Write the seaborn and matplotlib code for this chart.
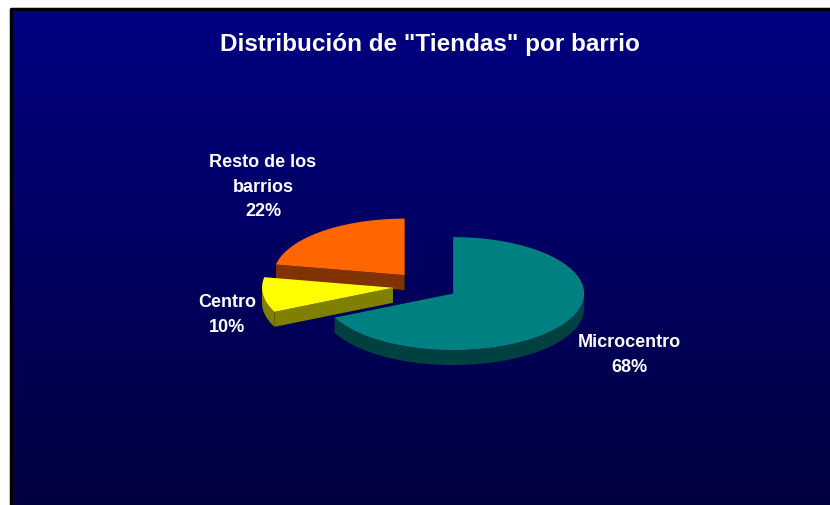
import numpy as np
import matplotlib
matplotlib.use("Agg")
import matplotlib.pyplot as plt
from matplotlib.patches import Polygon
import seaborn as sns

# --- DATA ---
barrios = ["Microcentro", "Centro", "Resto de los\nbarrios"]
shares = [68, 10, 22]
top_colors = ["#008080", "#FFFF00", "#FF6600"]
side_colors = ["#004040", "#808000", "#803300"]
title = 'Distribución de "Tiendas" por barrio'

# --- LAYOUT (pixel space) ---
W, H = 830, 505
CX, CY = 425.5, 286.0      # pie centre
RX, RY = 131.0, 56.5       # ellipse radii
DEPTH = 15.0               # thickness of the 3D pie
EXPLODE = 0.25
label_pos = [(629, 355), (227, 315), (263, 187)]

sns.set_style("white")
plt.rcParams['font.family'] = ['Liberation Sans', 'DejaVu Sans']

fig = plt.figure(figsize=(W / 100, H / 100), dpi=100)
fig.patch.set_facecolor("white")
ax = fig.add_axes([0, 0, 1, 1])
ax.set_xlim(0, W)
ax.set_ylim(H, 0)
ax.axis("off")

# background gradient + frame
grad = np.linspace(0, 1, 256).reshape(-1, 1)
cmap = matplotlib.colors.LinearSegmentedColormap.from_list("bg", ["#000082", "#000040"])
ax.imshow(grad, cmap=cmap, extent=(11, W + 2, H + 2, 9), aspect="auto", zorder=0)
ax.plot([11, 11, W + 2], [H + 2, 9, 9], color="black", lw=2.5, zorder=1)


def rim(a_from, a_to, ox, oy, dz=0.0, n=80):
    t = np.radians(np.linspace(a_from, a_to, n))
    return np.column_stack([ox + RX * np.cos(t), oy - RY * np.sin(t) + dz])


# slices clockwise from 12 o'clock
fracs = np.array(shares) / sum(shares)
starts = 90 - 360 * np.concatenate([[0], np.cumsum(fracs)[:-1]])
ends = starts - 360 * fracs

slices = []
for i in range(len(shares)):
    a1, a2 = starts[i], ends[i]       # a1 > a2 (clockwise)
    mid = np.radians((a1 + a2) / 2)
    ox = CX + EXPLODE * RX * np.cos(mid)
    oy = CY - EXPLODE * RY * np.sin(mid)
    slices.append((a1, a2, ox, oy))

# draw back to front: Resto, Centro, Microcentro
for i in [2, 1, 0]:
    a1, a2, ox, oy = slices[i]
    # outer rim visible between 180 and 360 degrees
    lo, hi = a2 % 360, a1 % 360
    if hi <= lo:
        hi += 360
    vis_lo, vis_hi = max(lo, 180), min(hi, 360)
    if vis_hi > vis_lo:
        top = rim(vis_lo, vis_hi, ox, oy)
        bot = rim(vis_hi, vis_lo, ox, oy, DEPTH)
        ax.add_patch(Polygon(np.vstack([top, bot]), closed=True,
                             facecolor=side_colors[i], edgecolor="none", zorder=2))
    # radial faces facing the viewer
    for ang, sgn in [(a1, 1), (a2, -1)]:
        normal = np.radians(ang + 90 * sgn)
        if np.sin(normal) < -1e-6:
            p = rim(ang, ang, ox, oy, n=1)[0]
            face = [(ox, oy), tuple(p), (p[0], p[1] + DEPTH), (ox, oy + DEPTH)]
            ax.add_patch(Polygon(face, closed=True, facecolor=side_colors[i],
                                 edgecolor="none", zorder=2))
    # top face
    arc = rim(a1, a2, ox, oy)
    ax.add_patch(Polygon(np.vstack([[ox, oy], arc]), closed=True,
                         facecolor=top_colors[i], edgecolor="none", zorder=3))

for i in range(len(shares)):
    x, y = label_pos[i]
    ax.text(x, y, f"{barrios[i]}\n{shares[i]}%", color="white", fontsize=13,
            fontweight="bold", ha="center", va="center", linespacing=1.6, zorder=5)

ax.text(430, 44, title, color="white", fontsize=17.5, fontweight="bold",
        ha="center", va="center", zorder=5)

fig.savefig("out.png", dpi=100, facecolor="white")
